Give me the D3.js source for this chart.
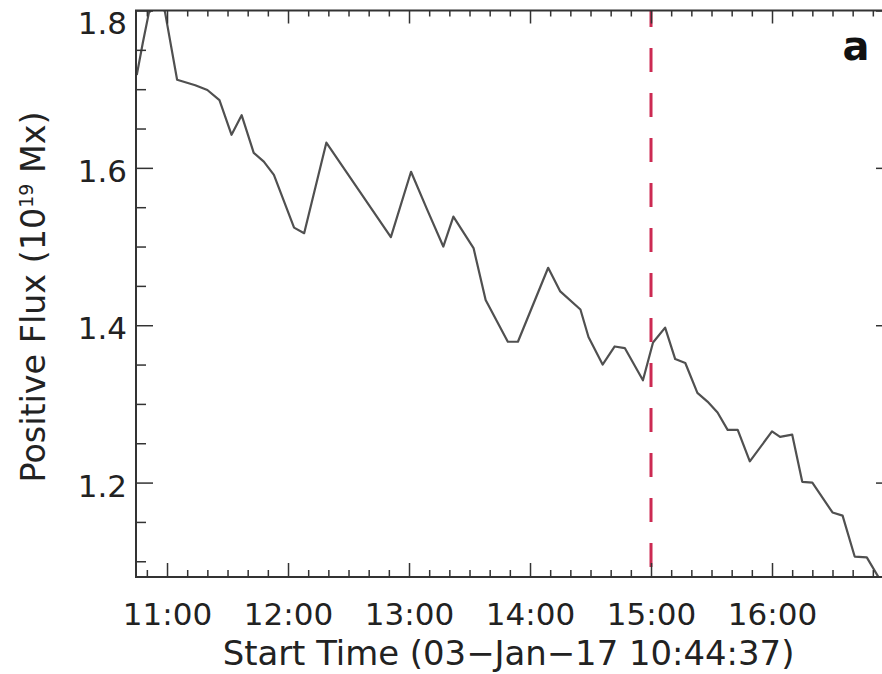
<!DOCTYPE html>
<html>
<head>
<meta charset="utf-8">
<script src="https://cdn.jsdelivr.net/npm/d3@7"></script>
<style>
  html, body { margin: 0; padding: 0; background: #fff; }
  svg { display: block; }
  text { font-family: "DejaVu Sans", sans-serif; fill: #222; }
</style>
</head>
<body>
<svg id="chart" width="882" height="674"></svg>
<script>
// ---- data ----
const startTime = "10:44:37";
const endTime = "17:00:00";
const times = ["10:45","10:48","10:51","10:54","10:57","10:59","11:05","11:14","11:20","11:26",
  "11:32","11:37","11:43","11:48","11:53","12:03","12:08","12:19","12:51","13:01",
  "13:09","13:17","13:22","13:32","13:38","13:49","13:54","14:09","14:15","14:25",
  "14:29","14:36","14:42","14:47","14:56","15:01","15:07","15:12","15:17","15:23",
  "15:28","15:33","15:38","15:43","15:49","16:00","16:04","16:10","16:15","16:20",
  "16:30","16:35","16:41","16:47","16:53"];
const flux = [1.718,1.759,1.797,1.806,1.810,1.798,1.712,1.705,1.699,1.686,
  1.642,1.667,1.619,1.608,1.591,1.524,1.517,1.632,1.512,1.595,
  1.547,1.500,1.538,1.498,1.432,1.379,1.379,1.473,1.443,1.420,
  1.385,1.350,1.373,1.371,1.330,1.378,1.397,1.357,1.352,1.314,
  1.303,1.289,1.267,1.267,1.227,1.265,1.258,1.261,1.201,1.200,
  1.162,1.158,1.106,1.105,1.079];
const yDomain = [1.08, 1.8];
const yMajorTicks = [1.2, 1.4, 1.6, 1.8];
const yMinorTicks = [1.1, 1.15, 1.25, 1.3, 1.35, 1.45, 1.5, 1.55, 1.65, 1.7, 1.75];
const xMajorTicks = ["11:00","12:00","13:00","14:00","15:00","16:00","17:00"];
const xTickLabels = ["11:00","12:00","13:00","14:00","15:00","16:00"];
const markerTime = "15:00";
const xTitle = "Start Time (03\u2212Jan\u221217 10:44:37)";
const yTitleMain = "Positive Flux (10";
const yTitleSup = "19";
const yTitleEnd = " Mx)";
const panelLabel = "a";

// ---- setup ----
const day = "2017-01-03 ";
const parseHM = d3.timeParse("%Y-%m-%d %H:%M");
const parseHMS = d3.timeParse("%Y-%m-%d %H:%M:%S");
const data = times.map((t, i) => ({ t: parseHM(day + t), v: flux[i] }));

const L = 136, R = 893, T = 10.5, B = 577;
const svg = d3.select("#chart");

const x = d3.scaleTime()
  .domain([parseHMS(day + startTime), parseHMS(day + endTime)])
  .range([L, R]);
const y = d3.scaleLinear().domain(yDomain).range([B, T]);

const frameColor = "#333";
const fmtHM = d3.timeFormat("%H:%M");

// clip
svg.append("defs").append("clipPath").attr("id", "clip")
  .append("rect").attr("x", L).attr("y", T).attr("width", R - L).attr("height", B - T);

// curve
const line = d3.line().x(d => x(d.t)).y(d => y(d.v));
svg.append("path")
  .datum(data)
  .attr("clip-path", "url(#clip)")
  .attr("d", line)
  .attr("fill", "none")
  .attr("stroke", "#505050")
  .attr("stroke-width", 2.2)
  .attr("stroke-linejoin", "round");

// marker line
const mx = x(parseHM(day + markerTime));
svg.append("line")
  .attr("x1", mx).attr("x2", mx).attr("y1", T).attr("y2", B)
  .attr("stroke", "#cc2a52").attr("stroke-width", 3)
  .attr("stroke-dasharray", "24,21").attr("stroke-dashoffset", 7.5);

// ---- axes ----
const xMajor = xMajorTicks.map(s => parseHM(day + s));
const xMinor = d3.timeMinute.every(10).range(x.domain()[0], x.domain()[1])
  .filter(d => d.getMinutes() !== 0);

// bottom
svg.append("g").attr("transform", `translate(0,${B})`)
  .call(d3.axisBottom(x).tickValues(xMinor).tickSize(-7).tickFormat(""))
  .call(g => g.select(".domain").remove())
  .call(g => g.selectAll("line").attr("stroke", frameColor).attr("stroke-width", 1.5));
svg.append("g").attr("transform", `translate(0,${B})`)
  .call(d3.axisBottom(x).tickValues(xMajor).tickSize(-14).tickPadding(0)
    .tickFormat(d => xTickLabels.includes(fmtHM(d)) ? fmtHM(d) : ""))
  .call(g => g.select(".domain").remove())
  .call(g => g.selectAll("line").attr("stroke", frameColor).attr("stroke-width", 1.5))
  .call(g => g.selectAll("text").attr("y", 48).attr("dy", null)
    .style("font-size", "31px").style("fill", "#222").style("font-family", "DejaVu Sans"));
// top
svg.append("g").attr("transform", `translate(0,${T})`)
  .call(d3.axisTop(x).tickValues(xMinor).tickSize(-6).tickFormat(""))
  .call(g => g.select(".domain").remove())
  .call(g => g.selectAll("line").attr("stroke", frameColor).attr("stroke-width", 1.5));
svg.append("g").attr("transform", `translate(0,${T})`)
  .call(d3.axisTop(x).tickValues(xMajor).tickSize(-13).tickFormat(""))
  .call(g => g.select(".domain").remove())
  .call(g => g.selectAll("line").attr("stroke", frameColor).attr("stroke-width", 1.5));

// left
svg.append("g").attr("transform", `translate(${L},0)`)
  .call(d3.axisLeft(y).tickValues(yMinorTicks).tickSize(-10).tickFormat(""))
  .call(g => g.select(".domain").remove())
  .call(g => g.selectAll("line").attr("stroke", frameColor).attr("stroke-width", 1.5));
svg.append("g").attr("transform", `translate(${L},0)`)
  .call(d3.axisLeft(y).tickValues(yMajorTicks).tickSize(-17).tickFormat(d3.format(".1f")))
  .call(g => g.select(".domain").remove())
  .call(g => g.selectAll("line").attr("stroke", frameColor).attr("stroke-width", 1.5))
  .call(g => g.selectAll("text").attr("x", -9).attr("dy", "0.36em")
    .attr("y", d => Math.max(2.5, 22 - y(d)))
    .style("font-size", "31px").style("fill", "#222").style("font-family", "DejaVu Sans"));
// right
svg.append("g").attr("transform", `translate(${R},0)`)
  .call(d3.axisRight(y).tickValues(yMinorTicks).tickSize(-10).tickFormat(""))
  .call(g => g.select(".domain").remove())
  .call(g => g.selectAll("line").attr("stroke", frameColor).attr("stroke-width", 1.5));
svg.append("g").attr("transform", `translate(${R},0)`)
  .call(d3.axisRight(y).tickValues(yMajorTicks).tickSize(-17).tickFormat(""))
  .call(g => g.select(".domain").remove())
  .call(g => g.selectAll("line").attr("stroke", frameColor).attr("stroke-width", 1.5));

// frame
svg.append("rect")
  .attr("x", L).attr("y", T).attr("width", R - L).attr("height", B - T)
  .attr("fill", "none").attr("stroke", frameColor).attr("stroke-width", 2);

// ---- titles ----
function fit(sel, target) {
  const w = sel.node().getComputedTextLength();
  const fs = parseFloat(sel.style("font-size"));
  sel.style("font-size", (fs * target / w) + "px");
}
const xt = svg.append("text")
  .attr("x", (L + 881) / 2).attr("y", 665)
  .attr("text-anchor", "middle")
  .style("font-size", "31px")
  .text(xTitle);
fit(xt, 572);

const yt = svg.append("text")
  .attr("transform", "translate(45,297) rotate(-90)")
  .attr("text-anchor", "middle")
  .style("font-size", "31px");
yt.append("tspan").text(yTitleMain);
yt.append("tspan").text(yTitleSup).style("font-size", "19px").attr("dy", -12);
yt.append("tspan").text(yTitleEnd).attr("dy", 12);
fit(yt, 373);

// panel label
svg.append("text")
  .attr("x", 856).attr("y", 60)
  .attr("text-anchor", "middle")
  .style("font-size", "40px").style("font-weight", "bold")
  .style("fill", "#111")
  .text(panelLabel);
</script>
</body>
</html>
